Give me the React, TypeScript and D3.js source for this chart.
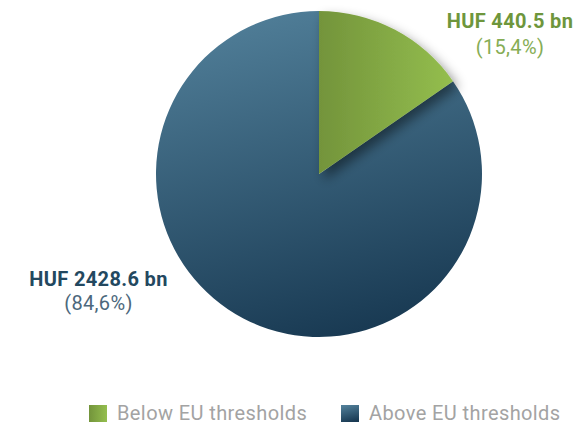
import { useEffect, useRef } from 'react'
import * as d3 from 'd3'

const categories = ['Below EU thresholds', 'Above EU thresholds']
const values = [440.5, 2428.6]
const valueLabels = ['HUF 440.5 bn', 'HUF 2428.6 bn']
const shareLabels = ['(15,4%)', '(84,6%)']

export default function App() {
  const svgRef = useRef<SVGSVGElement | null>(null)

  useEffect(() => {
    if (!svgRef.current) return
    const svg = d3.select(svgRef.current)
    svg.selectAll('*').remove()

    const width = 579
    const height = 424
    const cx = 319
    const cy = 174
    const radius = 163

    svg.attr('width', width).attr('height', height)

    const defs = svg.append('defs')
    const gGreen = defs.append('linearGradient').attr('id', 'gGreen')
      .attr('x1', 0).attr('y1', 0).attr('x2', 1).attr('y2', 0)
    gGreen.append('stop').attr('offset', '0%').attr('stop-color', '#73943b')
    gGreen.append('stop').attr('offset', '100%').attr('stop-color', '#94be4e')

    const gBlue = defs.append('linearGradient').attr('id', 'gBlue')
      .attr('x1', 0.3).attr('y1', 0).attr('x2', 0.55).attr('y2', 1)
    gBlue.append('stop').attr('offset', '0%').attr('stop-color', '#507e98')
    gBlue.append('stop').attr('offset', '100%').attr('stop-color', '#193a53')

    const shadow = defs.append('filter').attr('id', 'shadow')
      .attr('x', '-30%').attr('y', '-30%').attr('width', '170%').attr('height', '170%')
    shadow.append('feDropShadow')
      .attr('dx', 5).attr('dy', 6).attr('stdDeviation', 6)
      .attr('flood-color', '#000').attr('flood-opacity', 0.45)

    const color = ['url(#gGreen)', 'url(#gBlue)']

    const pie = d3.pie<number>().sort(null).value(d => d)
    const arcs = pie(values)
    const arc = d3.arc<d3.PieArcDatum<number>>().innerRadius(0).outerRadius(radius)

    const g = svg.append('g').attr('transform', `translate(${cx},${cy})`)
    // draw the large slice first so the small one's shadow falls on it
    g.append('path').attr('d', arc(arcs[1]) as string).attr('fill', color[1])
    g.append('path').attr('d', arc(arcs[0]) as string).attr('fill', color[0])
      .attr('filter', 'url(#shadow)')

    const font = 'Roboto, sans-serif'
    const labelPos = [
      { x: 510, y1: 28, y2: 54, c1: '#6e963c', c2: '#86ad55' },
      { x: 98.5, y1: 286, y2: 310, c1: '#23485f', c2: '#4c687c' }
    ]
    labelPos.forEach((p, i) => {
      svg.append('text').attr('x', p.x).attr('y', p.y1).attr('text-anchor', 'middle')
        .attr('font-family', font).attr('font-weight', 700).attr('font-size', 20)
        .attr('letter-spacing', 0.35)
        .attr('fill', p.c1).text(valueLabels[i])
      svg.append('text').attr('x', p.x).attr('y', p.y2).attr('text-anchor', 'middle')
        .attr('font-family', font).attr('font-size', 20).attr('letter-spacing', 0.35)
        .attr('fill', p.c2).text(shareLabels[i])
    })

    const legendX = [89, 341]
    const legend = svg.append('g')
    categories.forEach((c, i) => {
      legend.append('rect').attr('x', legendX[i]).attr('y', 405)
        .attr('width', 18).attr('height', 17).attr('fill', color[i])
      legend.append('text').attr('x', legendX[i] + 28).attr('y', 420)
        .attr('font-family', font).attr('font-size', 20).attr('letter-spacing', 0.4)
        .attr('fill', '#a3a3a3')
        .text(c)
    })
  }, [])

  return (
    <svg ref={svgRef} style={{ position: 'absolute', left: 0, top: 0, display: 'block' }}></svg>
  )
}
